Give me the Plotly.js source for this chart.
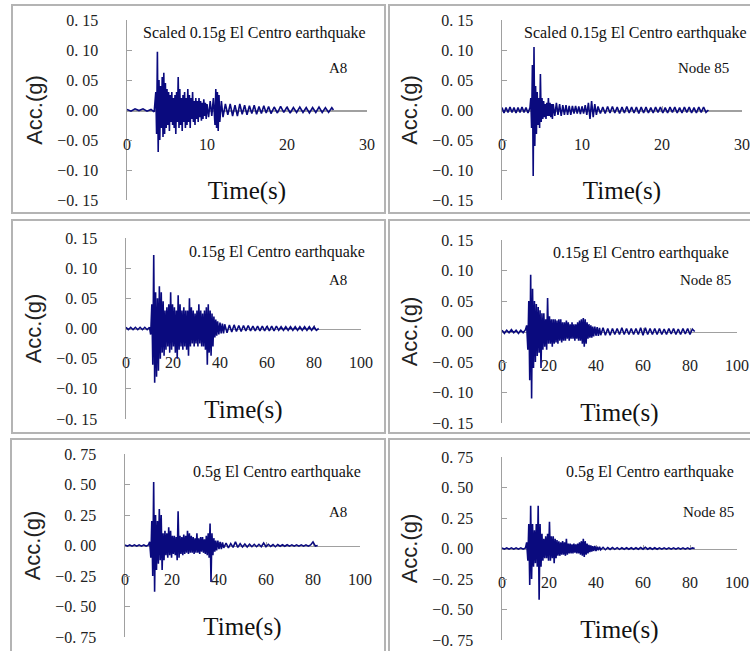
<!DOCTYPE html>
<html><head><meta charset="utf-8">
<script src="https://cdn.plot.ly/plotly-3.0.1.min.js"></script>
<style>html,body{margin:0;padding:0;background:#fff}#chart{width:750px;height:651px}</style>
</head><body><div id="chart"></div>
<script>
// ---------- DATA ----------
// Scaled 0.15g El Centro, A8 (time in s, acceleration in g)
const tScaledA8 = [0,0.5,1,1.5,2,2.5,3,3.4,
 3.6,3.7,3.8,3.9,4.0,4.1,4.2,4.3,4.4,4.5,4.6,4.7,4.8,4.9,
 5.0,5.1,5.2,5.3,5.4,5.5,5.6,5.7,5.8,5.9,
 6.0,6.1,6.2,6.3,6.4,6.5,6.6,6.7,6.8,6.9,
 7.0,7.1,7.2,7.3,7.4,7.5,7.6,7.7,7.8,7.9,
 8.0,8.1,8.2,8.3,8.4,8.5,8.6,8.7,8.8,8.9,
 9.0,9.1,9.2,9.3,9.4,9.5,9.6,9.7,9.8,9.9,
 10.0,10.2,10.4,10.6,10.8,11.0,11.1,11.2,11.3,11.4,11.5,11.6,11.8,
 12.0,12.3,12.6,12.9,13.2,13.5,13.8,14.1,14.4,14.7,15.0,15.3,15.6,15.9,16.2,16.5,16.8,17.1,17.4,17.7,
 18.0,18.4,18.8,19.2,19.6,20.0,20.4,20.8,21.2,21.6,22.0,22.4,22.8,23.2,23.6,24.0,24.4,24.8,25.2,25.6,25.8];
const accScaledA8 = [0.001,-0.002,0.002,-0.001,0.002,-0.002,0.001,-0.003,
 0.03,-0.04,0.097,-0.07,0.05,-0.05,0.04,-0.03,0.055,-0.045,0.062,-0.04,0.045,-0.03,
 0.035,-0.025,0.03,-0.035,0.025,-0.02,0.03,-0.025,0.02,-0.03,
 0.025,-0.04,0.03,-0.02,0.055,-0.03,0.035,-0.025,0.02,-0.035,
 0.025,-0.02,0.03,-0.03,0.02,-0.025,0.035,-0.02,0.025,-0.03,
 0.02,-0.015,0.03,-0.02,0.015,-0.025,0.02,-0.015,0.015,-0.02,
 0.02,-0.012,0.015,-0.018,0.012,-0.015,0.018,-0.01,0.012,-0.015,
 0.01,-0.012,0.015,-0.01,0.02,-0.025,0.035,-0.03,0.03,-0.035,0.025,-0.02,0.015,
 -0.012,0.01,-0.008,0.01,-0.01,0.008,-0.01,0.01,-0.007,0.008,-0.008,0.007,-0.006,0.008,-0.007,0.006,-0.006,0.007,-0.005,0.006,
 -0.006,0.005,-0.005,0.006,-0.004,0.005,-0.005,0.004,-0.004,0.005,-0.004,0.004,-0.005,0.004,-0.004,0.005,-0.004,0.004,-0.004,0.004,0];

// Scaled 0.15g El Centro, Node 85
const tScaledN85 = [0,0.25,0.5,0.75,1,1.25,1.5,1.75,2,2.25,2.5,2.75,3,3.25,3.5,
 3.6,3.7,3.8,3.9,4.0,4.1,4.2,4.3,4.4,4.5,4.6,4.7,4.8,4.9,
 5.0,5.1,5.2,5.3,5.4,5.5,5.6,5.7,5.8,5.9,
 6.0,6.1,6.2,6.3,6.4,6.6,6.8,7.0,7.2,7.4,7.6,7.8,
 8.0,8.2,8.4,8.6,8.8,9.0,9.2,9.4,9.6,9.8,
 10.0,10.2,10.4,10.6,10.8,11.0,11.2,11.4,11.6,11.8,
 12.0,12.3,12.6,12.9,13.2,13.5,13.8,14.1,14.4,14.7,15.0,15.3,15.6,15.9,16.2,16.5,16.8,17.1,17.4,17.7,
 18.0,18.3,18.6,18.9,19.2,19.5,19.8,20.1,20.4,20.7,21.0,21.3,21.6,21.9,22.2,22.5,22.8,23.1,23.4,23.7,
 24.0,24.3,24.6,24.9,25.2,25.5,25.8];
const accScaledN85 = [0.004,-0.005,0.004,-0.004,0.005,-0.004,0.004,-0.005,0.004,-0.004,0.005,-0.004,0.004,-0.005,0.004,
 0.02,-0.03,0.075,-0.11,0.105,-0.06,0.04,-0.04,0.03,-0.025,0.02,-0.03,0.06,-0.02,
 0.02,-0.015,0.015,-0.012,0.01,-0.015,0.012,-0.01,0.02,-0.01,
 0.012,-0.012,0.01,-0.015,0.01,-0.01,0.012,-0.008,0.01,-0.01,0.008,-0.008,
 0.008,-0.008,0.007,-0.008,0.007,-0.006,0.007,-0.006,0.006,-0.007,
 0.006,-0.006,0.008,-0.008,0.012,-0.015,0.015,-0.012,0.01,-0.008,
 0.006,-0.006,0.005,-0.006,0.006,-0.005,0.006,-0.005,0.005,-0.006,0.005,-0.005,0.006,-0.005,0.005,-0.005,0.005,-0.006,0.005,-0.005,
 0.005,-0.005,0.004,-0.005,0.005,-0.004,0.005,-0.005,0.004,-0.005,0.005,-0.004,0.005,-0.005,0.004,-0.005,0.005,-0.004,0.005,-0.005,
 0.004,-0.005,0.005,-0.004,0.005,-0.004,0];

// Full-length records (0.15g and 0.5g El Centro), shared time samples
const tFull = [0,1,2,3,4,5,6,7,8,9,10,
 10.5,11.0,11.4,11.8,12.2,12.6,13.0,13.4,13.8,14.2,14.6,15.0,15.4,15.8,16.2,16.6,17.0,17.4,17.8,
 18.2,18.6,19.0,19.4,19.8,20.2,20.6,21.0,21.4,21.8,22.2,22.6,23.0,23.4,23.8,24.2,24.6,25.0,25.4,25.8,
 26.2,26.6,27.0,27.4,27.8,28.2,28.6,29.0,29.4,29.8,30.2,30.6,31.0,31.4,31.8,32.2,32.6,33.0,33.4,33.8,
 34.2,34.6,35.0,35.4,35.8,36.2,36.6,37.0,37.4,37.8,38.2,38.6,39.0,39.5,40.0,40.5,41,41.5,
 42,43,44,45,46,47,48,49,50,51,52,53,54,55,56,57,58,59,60,61,
 62,63,64,65,66,67,68,69,70,71,72,73,74,75,76,77,78,79,80,81,82];
const acc015A8 = [0.002,-0.002,0.002,-0.002,0.002,-0.002,0.002,-0.002,0.002,-0.002,0.002,
 -0.01,0.04,-0.06,0.122,-0.09,0.06,-0.08,0.05,-0.07,0.07,-0.05,0.06,-0.04,0.045,-0.045,0.03,-0.035,0.035,-0.03,
 0.04,-0.04,0.06,-0.035,0.04,-0.03,0.035,-0.04,0.03,-0.05,0.055,-0.035,0.04,-0.03,0.03,-0.035,0.035,-0.03,0.03,-0.035,
 0.03,-0.045,0.05,-0.03,0.035,-0.025,0.03,-0.03,0.025,-0.025,0.03,-0.03,0.04,-0.025,0.03,-0.03,0.025,-0.03,0.03,-0.035,
 0.035,-0.06,0.04,-0.04,0.03,-0.045,0.025,-0.03,0.02,-0.015,0.015,-0.012,0.012,-0.01,0.01,-0.008,0.008,-0.008,
 0.007,-0.007,0.006,-0.006,0.006,-0.005,0.005,-0.005,0.005,-0.004,0.005,-0.004,0.004,-0.004,0.004,-0.004,0.004,-0.004,0.004,-0.004,
 0.004,-0.004,0.004,-0.003,0.003,-0.003,0.003,-0.003,0.003,-0.003,0.003,-0.003,0.003,-0.003,0.003,-0.003,0.003,-0.003,0.003,-0.003,0];
const acc015N85 = [0.002,-0.003,0.002,-0.002,0.003,-0.002,0.002,-0.003,0.002,-0.002,0.003,
 0.01,-0.03,0.05,-0.08,0.093,-0.11,0.07,-0.06,0.05,-0.05,0.045,-0.04,0.04,-0.035,0.035,-0.06,0.03,-0.03,0.03,
 -0.025,0.02,-0.03,0.055,-0.02,0.025,-0.02,0.02,-0.025,0.02,-0.02,0.02,-0.018,0.018,-0.02,0.02,-0.015,0.02,-0.018,0.015,
 -0.015,0.015,-0.015,0.018,-0.012,0.015,-0.015,0.012,-0.012,0.015,-0.012,0.012,-0.015,0.012,-0.012,0.015,-0.015,0.018,-0.015,0.02,
 -0.02,0.022,-0.025,0.02,-0.02,0.015,-0.012,0.012,-0.01,0.01,-0.01,0.008,-0.008,0.008,-0.007,0.007,-0.007,0.006,
 -0.006,0.006,-0.006,0.005,-0.006,0.005,-0.005,0.005,-0.005,0.006,-0.005,0.005,-0.005,0.005,-0.005,0.005,-0.005,0.006,-0.006,0.006,
 -0.005,0.005,-0.005,0.005,-0.005,0.005,-0.005,0.004,-0.005,0.005,-0.004,0.005,-0.005,0.004,-0.005,0.005,-0.004,0.005,-0.005,0.004,0];
const acc05A8 = [0.005,-0.005,0.005,-0.005,0.005,-0.005,0.005,-0.005,0.005,-0.005,0.005,
 0.03,-0.1,0.2,-0.25,0.52,-0.38,0.25,-0.2,0.2,-0.15,0.3,-0.12,0.25,-0.2,0.1,-0.12,0.12,-0.08,0.1,
 -0.1,0.15,-0.08,0.12,-0.1,0.08,-0.07,0.08,-0.08,0.07,-0.12,0.28,-0.1,0.08,-0.07,0.07,-0.08,0.09,-0.07,0.08,
 -0.06,0.12,-0.07,0.1,-0.06,0.08,-0.06,0.07,-0.07,0.06,-0.06,0.1,-0.06,0.06,-0.07,0.07,-0.05,0.07,-0.06,0.05,
 -0.07,0.08,-0.08,0.1,-0.1,0.18,-0.3,0.1,-0.08,0.06,-0.05,0.04,-0.04,0.04,-0.03,0.03,-0.03,0.025,
 -0.02,0.02,-0.02,0.015,-0.015,0.03,-0.015,0.015,-0.012,0.012,-0.012,0.01,-0.01,0.01,-0.01,0.01,-0.01,0.02,-0.01,0.01,
 -0.008,0.008,-0.01,0.008,-0.006,0.006,-0.006,0.006,-0.005,0.005,-0.005,0.005,-0.005,0.005,-0.005,0.005,-0.005,0.005,0.03,-0.005,0];
const acc05N85 = [0.005,-0.005,0.005,-0.005,0.005,-0.005,0.005,-0.005,0.005,-0.005,0.005,
 0.05,-0.1,0.2,-0.3,0.35,-0.25,0.2,-0.15,0.15,-0.12,0.2,-0.15,0.35,-0.42,0.2,-0.15,0.12,-0.1,0.08,
 -0.08,0.1,-0.08,0.12,-0.1,0.22,-0.1,0.1,-0.08,0.1,-0.12,0.08,-0.08,0.07,-0.06,0.06,-0.06,0.05,-0.05,0.06,
 -0.05,0.05,-0.06,0.08,-0.05,0.04,-0.04,0.04,-0.04,0.035,-0.04,0.04,-0.035,0.035,-0.04,0.04,-0.04,0.05,-0.05,0.06,
 -0.06,0.08,-0.07,0.06,-0.05,0.04,-0.04,0.03,-0.03,0.025,-0.025,0.02,-0.02,0.02,-0.02,0.015,-0.015,0.015,
 -0.01,0.01,-0.01,0.008,-0.008,0.008,-0.007,0.007,-0.007,0.006,-0.006,0.006,-0.006,0.006,-0.006,0.006,-0.006,0.008,-0.006,0.01,
 -0.006,0.006,-0.006,0.006,-0.006,0.005,-0.005,0.005,-0.005,0.005,-0.005,0.005,-0.005,0.005,-0.005,0.005,-0.005,0.005,-0.005,0.005,0];

// Tick values and labels
const xTicksShort = [0,10,20,30];
const xTicksLong = [0,20,40,60,80,100];
const yTicksSmall = [-0.15,-0.10,-0.05,0,0.05,0.10,0.15];
const yTickTextSmall = ['\u22120. 15','\u22120. 10','\u22120. 05','0. 00','0. 05','0. 10','0. 15'];
const yTicksLarge = [-0.75,-0.50,-0.25,0,0.25,0.50,0.75];
const yTickTextLarge = ['\u22120. 75','\u22120. 50','\u22120. 25','0. 00','0. 25','0. 50','0. 75'];
const caseLabels = ['Scaled 0.15g El Centro earthquake','Scaled 0.15g El Centro earthquake',
                    '0.15g El Centro earthquake','0.15g El Centro earthquake',
                    '0.5g El Centro earthquake','0.5g El Centro earthquake'];
const locationLabels = ['A8','Node 85','A8','Node 85','A8','Node 85'];
const xTitle = 'Time(s)';
const yTitle = 'Acc.(g)';

// ---------- LAYOUT ----------
const W = 750, H = 651;
const series = [
  {t:tScaledA8, a:accScaledA8, xt:xTicksShort, xmax:30, yt:yTicksSmall, ytt:yTickTextSmall, ymax:0.15},
  {t:tScaledN85, a:accScaledN85, xt:xTicksShort, xmax:30, yt:yTicksSmall, ytt:yTickTextSmall, ymax:0.15},
  {t:tFull, a:acc015A8, xt:xTicksLong, xmax:100, yt:yTicksSmall, ytt:yTickTextSmall, ymax:0.15},
  {t:tFull, a:acc015N85, xt:xTicksLong, xmax:100, yt:yTicksSmall, ytt:yTickTextSmall, ymax:0.15},
  {t:tFull, a:acc05A8, xt:xTicksLong, xmax:100, yt:yTicksLarge, ytt:yTickTextLarge, ymax:0.75},
  {t:tFull, a:acc05N85, xt:xTicksLong, xmax:100, yt:yTicksLarge, ytt:yTickTextLarge, ymax:0.75}
];
// pixel geometry: box [x0,y0,x1,y1], plot [x0,yTop,x1,yBottom], text y, location y, text right edge, location right edge
const geom = [
  {box:[12,5,385,213],  plot:[127,20,367,200],  ty:33,  ly:68,  tr:368, lr:349},
  {box:[389,5,753,213], plot:[502,20,742,200],  ty:33,  ly:68,  tr:749, lr:731},
  {box:[12,220,385,433],plot:[126,238,361,419], ty:252, ly:280, tr:367, lr:349},
  {box:[389,220,753,433],plot:[502,240,737,423],ty:253, ly:280, tr:731, lr:733},
  {box:[11,439,385,656],plot:[125,454,360,637], ty:472, ly:512, tr:363, lr:349},
  {box:[389,439,753,656],plot:[502,457,737,640],ty:472, ly:512, tr:736, lr:736}
];
const px = p => p / W, py = p => 1 - p / H;
const axisGrey = '#a0a0a0';
const tickFont = {family:'Liberation Serif, DejaVu Serif, serif', size:16, color:'#222'};

const data = [];
const layout = {
  width: W, height: H, margin:{l:0,r:0,t:0,b:0},
  paper_bgcolor:'#fff', plot_bgcolor:'rgba(0,0,0,0)', showlegend:false,
  shapes:[], annotations:[]
};

series.forEach((s, i) => {
  const g = geom[i];
  const n = i === 0 ? '' : String(i + 1);
  data.push({
    type:'scatter', mode:'lines', x:s.t, y:s.a,
    xaxis:'x' + n, yaxis:'y' + n,
    line:{color:'#0a0a7e', width:1.6, simplify:false},
    hoverinfo:'skip'
  });
  const yMid = (g.plot[1] + g.plot[3]) / 2;
  layout['xaxis' + n] = {
    domain:[px(g.plot[0]), px(g.plot[2])], range:[0, s.xmax],
    anchor:'free', position: py(yMid), layer:'below traces',
    tickmode:'array', tickvals:s.xt,
    showline:true, linecolor:axisGrey, linewidth:1.5,
    ticks:'inside', ticklen:4, tickcolor:axisGrey,
    ticklabelstandoff:19, tickfont:tickFont,
    showgrid:false, zeroline:false, fixedrange:true,
    title:{text:xTitle, font:{family:'Liberation Serif, serif', size:25, color:'#111'}, standoff:30}
  };
  layout['yaxis' + n] = {
    domain:[py(g.plot[3]), py(g.plot[1])], range:[-s.ymax, s.ymax],
    anchor:'x' + n, layer:'below traces',
    tickmode:'array', tickvals:s.yt, ticktext:s.ytt,
    showline:true, linecolor:axisGrey, linewidth:1.5,
    ticks:'inside', ticklen:5, tickcolor:axisGrey,
    ticklabelstandoff:24, tickfont:tickFont,
    showgrid:false, zeroline:false, fixedrange:true,
    title:{text:yTitle, font:{family:'Liberation Sans, Arial, sans-serif', size:22, color:'#222'}, standoff:8}
  };
  layout.shapes.push({type:'rect', xref:'paper', yref:'paper', layer:'below',
    x0:px(g.box[0]), x1:px(g.box[2]), y0:py(g.box[3]), y1:py(g.box[1]),
    line:{color:'#b4b4b4', width:2}, fillcolor:'#fff'});
  layout.annotations.push({xref:'paper', yref:'paper', x:px(g.tr), y:py(g.ty),
    xanchor:'right', yanchor:'middle', showarrow:false, text:caseLabels[i],
    font:{family:'Liberation Serif, serif', size:16, color:'#111'}});
  layout.annotations.push({xref:'paper', yref:'paper', x:px(g.lr), y:py(g.ly),
    xanchor:'right', yanchor:'middle', showarrow:false, text:locationLabels[i],
    font:{family:'Liberation Serif, serif', size:15, color:'#111'}});
});

Plotly.newPlot('chart', data, layout, {displayModeBar:false, staticPlot:true});
</script></body></html>
